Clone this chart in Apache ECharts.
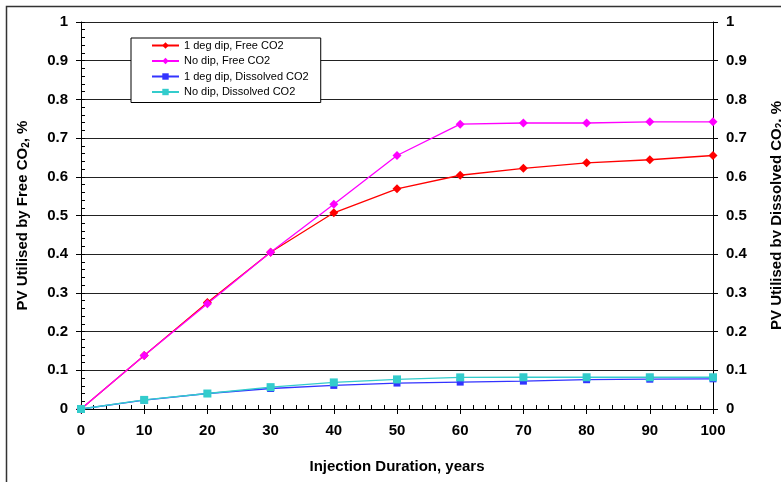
<!DOCTYPE html>
<html>
<head>
<meta charset="utf-8">
<script src="https://cdn.jsdelivr.net/npm/echarts@6/dist/echarts.min.js"></script>
<style>html,body{margin:0;padding:0;background:#fff}#c{width:781px;height:482px}</style>
</head>
<body>
<div id="c"></div>
<script>
const years = [0, 10, 20, 30, 40, 50, 60, 70, 80, 90, 100];
const freeDip1 = [0, 0.138, 0.275, 0.405, 0.507, 0.569, 0.604, 0.622, 0.636, 0.644, 0.655];
const freeNoDip = [0, 0.138, 0.272, 0.405, 0.529, 0.655, 0.736, 0.739, 0.739, 0.742, 0.742];
const dissDip1 = [0, 0.023, 0.040, 0.053, 0.061, 0.067, 0.0695, 0.072, 0.0757, 0.077, 0.078];
const dissNoDip = [0, 0.0235, 0.040, 0.0565, 0.0687, 0.0765, 0.0817, 0.082, 0.082, 0.082, 0.082];
const seriesNames = ['1 deg dip, Free CO2', 'No dip, Free CO2', '1 deg dip, Dissolved CO2', 'No dip, Dissolved CO2'];
const xTitle = 'Injection Duration, years';
const yLeftTitle = 'PV Utilised by Free CO{s|2}, %';
const yRightTitle = 'PV Utilised by Dissolved CO{s|2}, %';

const FONT = '"Liberation Sans", Arial, sans-serif';
const pairs = a => a.map((v, i) => [years[i], v]);
const lab = {color: '#000', fontFamily: FONT, fontWeight: 'bold', fontSize: 15};
const nameStyle = {color: '#000', fontFamily: FONT, fontWeight: 'bold', fontSize: 15,
  rich: {s: {fontFamily: FONT, fontWeight: 'bold', fontSize: 10, verticalAlign: 'bottom', padding: [6, 0, 0, 0]}}};

const chart = echarts.init(document.getElementById('c'), null, {renderer: 'canvas'});
chart.setOption({
  animation: false,
  backgroundColor: '#fff',
  graphic: [{type: 'rect', shape: {x: 6.5, y: 6.5, width: 900, height: 600},
    style: {fill: null, stroke: '#333', lineWidth: 1.5}, silent: true}],
  grid: {left: 81, right: 68, top: 22, bottom: 73, containLabel: false, outerBoundsMode: 'none'},
  legend: {
    orient: 'vertical', left: 131, top: 38,
    data: seriesNames,
    backgroundColor: '#fff', borderColor: '#000', borderWidth: 1, borderRadius: 0,
    padding: [2, 12, 5, 20], itemGap: 4.5, itemWidth: 27, itemHeight: 8,
    textStyle: {fontFamily: FONT, fontSize: 11, color: '#000'}
  },
  xAxis: [{
    type: 'value', min: 0, max: 100, interval: 10, position: 'bottom',
    axisLine: {show: true, onZero: false, lineStyle: {color: '#000', width: 1}},
    axisTick: {show: true, inside: false, length: 5, lineStyle: {color: '#000'}},
    axisLabel: Object.assign({margin: 14}, lab),
    splitLine: {show: false},
    name: xTitle, nameLocation: 'middle', nameGap: 50,
    nameTextStyle: nameStyle
  }, {
    type: 'value', min: 0, max: 100, interval: 2, position: 'bottom',
    axisLine: {show: false}, axisLabel: {show: false}, splitLine: {show: false},
    axisTick: {show: true, inside: true, length: 4, lineStyle: {color: '#000'}}
  }],
  yAxis: [{
    type: 'value', min: 0, max: 1, interval: 0.1, position: 'left',
    axisLine: {show: true, onZero: false, lineStyle: {color: '#000', width: 1}},
    axisTick: {show: true, inside: false, length: 5, lineStyle: {color: '#000'}},
    axisLabel: Object.assign({margin: 13, formatter: v => String(+v.toFixed(1))}, lab),
    splitLine: {show: true, lineStyle: {color: '#222', width: 1}},
    name: yLeftTitle, nameLocation: 'middle', nameGap: 50, nameRotate: 90,
    nameTextStyle: nameStyle
  }, {
    type: 'value', min: 0, max: 1, interval: 0.1, position: 'right',
    axisLine: {show: true, onZero: false, lineStyle: {color: '#000', width: 1}},
    axisTick: {show: true, inside: false, length: 5, lineStyle: {color: '#000'}},
    axisLabel: Object.assign({margin: 13, formatter: v => String(+v.toFixed(1))}, lab),
    splitLine: {show: false},
    name: yRightTitle, nameLocation: 'middle', nameGap: 56, nameRotate: 90,
    nameTextStyle: nameStyle
  }, {
    type: 'value', min: 0, max: 1, interval: 0.02, position: 'left',
    axisLine: {show: false}, axisLabel: {show: false}, splitLine: {show: false},
    axisTick: {show: true, inside: true, length: 4, lineStyle: {color: '#000'}}
  }],
  series: [
    {name: seriesNames[0], type: 'line', data: pairs(freeDip1), yAxisIndex: 0,
     symbol: 'diamond', symbolSize: 9, color: '#ff0000', lineStyle: {width: 1.3}, itemStyle: {color: '#ff0000'}},
    {name: seriesNames[1], type: 'line', data: pairs(freeNoDip), yAxisIndex: 0,
     symbol: 'diamond', symbolSize: 9, color: '#ff00ff', lineStyle: {width: 1.3}, itemStyle: {color: '#ff00ff'}},
    {name: seriesNames[2], type: 'line', data: pairs(dissDip1), yAxisIndex: 1,
     symbol: 'rect', symbolSize: 7, color: '#3333ff', lineStyle: {width: 1.3}, itemStyle: {color: '#3333ff'}},
    {name: seriesNames[3], type: 'line', data: pairs(dissNoDip), yAxisIndex: 1,
     symbol: 'rect', symbolSize: 8, color: '#33cccc', lineStyle: {width: 1.3}, itemStyle: {color: '#33cccc'}}
  ]
});
</script>
</body>
</html>
